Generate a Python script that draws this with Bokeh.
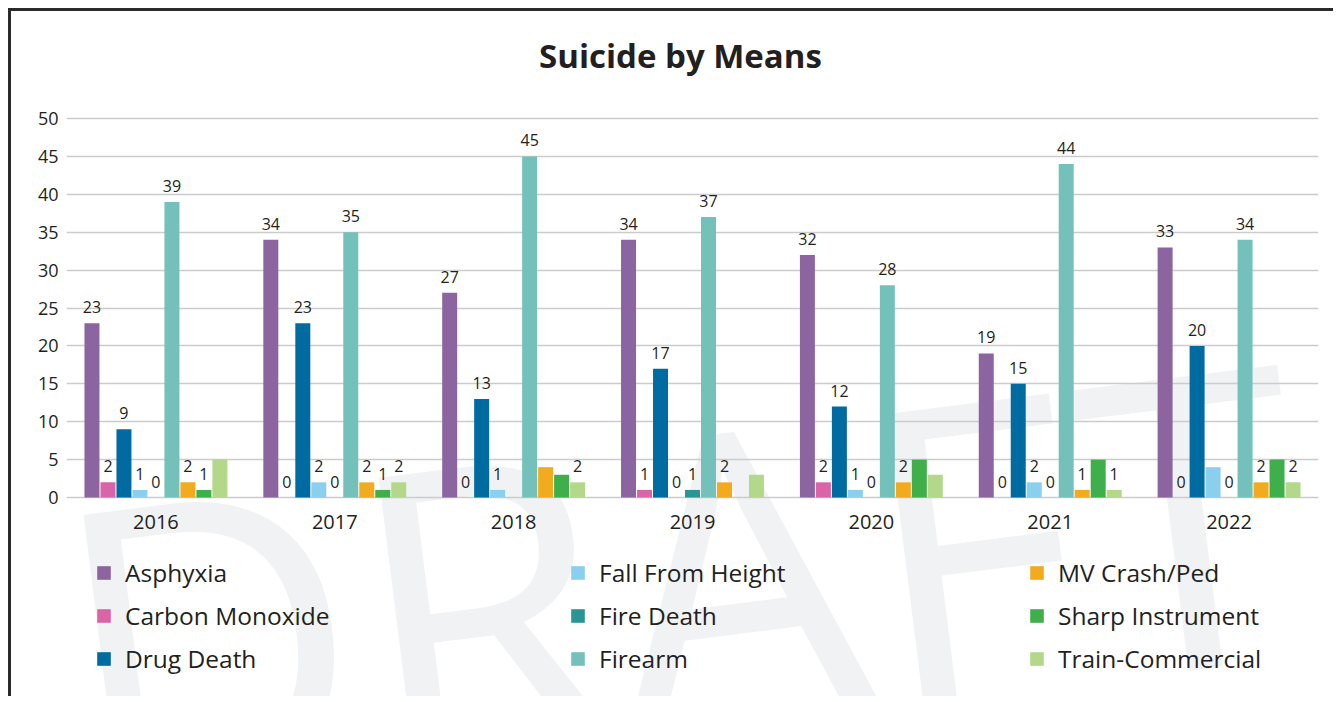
from bokeh.plotting import figure
from bokeh.models import (ColumnDataSource, FactorRange, Range1d, Legend, LegendItem,
                          Label, FixedTicker)
from bokeh.transform import dodge
from bokeh.core.properties import value
from bokeh.embed import file_html
from bokeh.resources import INLINE

title_text = "Suicide by Means"
years = ["2016", "2017", "2018", "2019", "2020", "2021", "2022"]
series = ["Asphyxia", "Carbon Monoxide", "Drug Death", "Fall From Height", "Fire Death",
          "Firearm", "MV Crash/Ped", "Sharp Instrument", "Train-Commercial"]

asphyxia = [23, 34, 27, 34, 32, 19, 33]
carbon_monoxide = [2, 0, 0, 1, 2, 0, 0]
drug_death = [9, 23, 13, 17, 12, 15, 20]
fall_from_height = [1, 2, 1, 0, 1, 2, 4]
fire_death = [0, 0, 0, 1, 0, 0, 0]
firearm = [39, 35, 45, 37, 28, 44, 34]
mv_crash_ped = [2, 2, 4, 2, 2, 1, 2]
sharp_instrument = [1, 1, 3, 0, 5, 5, 5]
train_commercial = [5, 2, 2, 3, 3, 1, 2]

asphyxia_labels = ["23", "34", "27", "34", "32", "19", "33"]
carbon_monoxide_labels = ["2", "0", "0", "1", "2", "0", "0"]
drug_death_labels = ["9", "23", "13", "17", "12", "15", "20"]
fall_from_height_labels = ["1", "2", "1", "0", "1", "2", ""]
fire_death_labels = ["0", "0", "", "1", "0", "0", "0"]
firearm_labels = ["39", "35", "45", "37", "28", "44", "34"]
mv_crash_ped_labels = ["2", "2", "", "2", "2", "1", "2"]
sharp_instrument_labels = ["1", "1", "", "", "", "", ""]
train_commercial_labels = ["", "2", "2", "", "", "1", "2"]

colors = ["#8b64a0", "#d964a8", "#006ba0", "#8acfee", "#2a9595",
          "#73c1ba", "#f2aa1e", "#3eaf4a", "#b3d88a"]

y_ticks = [0, 5, 10, 15, 20, 25, 30, 35, 40, 45, 50]

values_list = [asphyxia, carbon_monoxide, drug_death, fall_from_height, fire_death,
               firearm, mv_crash_ped, sharp_instrument, train_commercial]
labels_list = [asphyxia_labels, carbon_monoxide_labels, drug_death_labels,
               fall_from_height_labels, fire_death_labels, firearm_labels,
               mv_crash_ped_labels, sharp_instrument_labels, train_commercial_labels]

data = {"year": years}
for i, (v, l) in enumerate(zip(values_list, labels_list)):
    data[f"v{i}"] = v
    data[f"l{i}"] = l
source = ColumnDataSource(data)

FONT = "Open Sans"
TXT = "#231f20"

# the frame spans the full canvas height so title, legend and watermark live inside it
p = figure(x_range=FactorRange(*years), y_range=Range1d(-26.65, 64.12),
           width=1325, height=688, output_backend="svg", toolbar_location=None,
           min_border_left=55, min_border_right=18, min_border_top=0,
           min_border_bottom=0)
p.styles = {"margin-left": "8px", "margin-top": "8px",
            "border-top": "3px solid #2b2b2b", "border-left": "3px solid #2b2b2b"}

p.outline_line_color = None
p.background_fill_color = "white"
p.border_fill_color = "white"
p.x_range.range_padding = 0

# watermark
wm = Label(x=-6, y=47, x_units="screen", y_units="screen", text="DRAFT",
           text_font=FONT, text_font_size="410px", text_color="#f1f2f4",
           angle=0.125, text_align="left", text_baseline="alphabetic", level="image")
p.add_layout(wm)

# title
tl = Label(x=614, y=644, x_units="screen", y_units="screen", text=title_text,
           text_font=FONT, text_font_size="33px", text_font_style="bold",
           text_color=TXT, text_align="center", text_baseline="middle")
p.add_layout(tl)

pitch = 0.0894
bw = 0.0838
renderers = []
for i, name in enumerate(series):
    off = (i - 4) * pitch
    r = p.vbar(x=dodge("year", off, range=p.x_range), top=f"v{i}", width=bw,
               source=source, fill_color=colors[i], line_color=None)
    renderers.append(r)
    p.text(x=dodge("year", off, range=p.x_range), y=f"v{i}", text=f"l{i}",
           source=source, y_offset=-16, text_align="center", text_baseline="alphabetic",
           text_font=value(FONT), text_font_size="16px", text_color=TXT)

p.ygrid.grid_line_color = "#cccccc"
p.ygrid.grid_line_width = 1.5
p.xgrid.grid_line_color = None

p.yaxis.ticker = FixedTicker(ticks=y_ticks)
p.yaxis.axis_line_color = None
p.yaxis.major_tick_line_color = None
p.yaxis.minor_tick_line_color = None
p.yaxis.major_tick_out = 0
p.yaxis.major_label_standoff = 8
p.yaxis.major_label_text_font = FONT
p.yaxis.major_label_text_font_size = "18px"
p.yaxis.major_label_text_color = TXT

p.xaxis.fixed_location = 0
p.xaxis.axis_line_color = None
p.xaxis.major_tick_line_color = None
p.xaxis.major_tick_out = 0
p.xaxis.major_label_standoff = 17
p.xaxis.major_label_text_font = FONT
p.xaxis.major_label_text_font_size = "20px"
p.xaxis.major_label_text_color = TXT

col_x = [29, 503, 962]
for c in range(3):
    items = [LegendItem(label=series[k], renderers=[renderers[k]]) for k in range(c * 3, c * 3 + 3)]
    lg = Legend(items=items, location=(col_x[c], 24), orientation="vertical",
                padding=0, margin=0, spacing=10, glyph_width=17, glyph_height=17,
                label_height=30, label_standoff=13, border_line_color=None,
                background_fill_alpha=0, label_text_font=FONT,
                label_text_font_size="24.5px", label_text_color=TXT)
    p.add_layout(lg)

open("out.html", "w").write(file_html(p, INLINE))
